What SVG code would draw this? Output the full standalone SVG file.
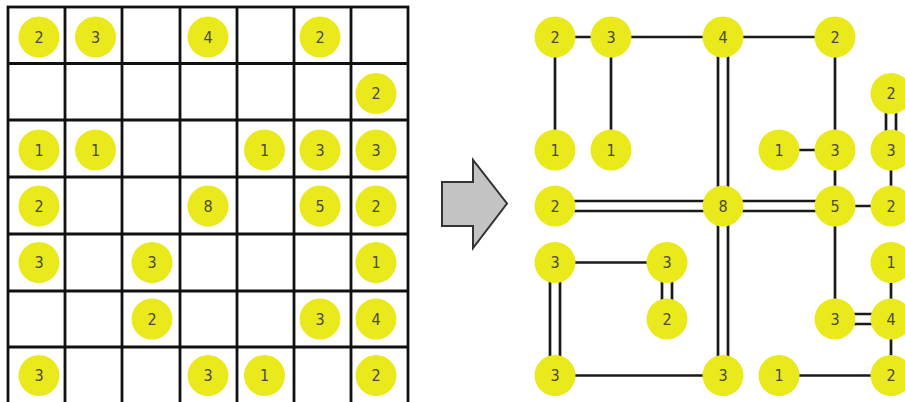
<svg xmlns="http://www.w3.org/2000/svg" width="905" height="402" viewBox="0 0 905 402">
  <style>
    .grid { stroke: #111; stroke-width: 2.8; fill: none; }
    .isle use { fill: #e9e91c; }
    .isle text { font-family: "DejaVu Sans Condensed", "Liberation Sans Narrow", "Liberation Sans", Arial, sans-serif; font-size: 16px; fill: #4a4a3a; text-anchor: middle; dominant-baseline: central; }
    .br line { stroke: #1a1a1a; stroke-width: 2.7; }
    .arrow { fill: #c4c4c4; stroke: #333; stroke-width: 2; stroke-linejoin: miter; }
  </style>
  <defs>
    <circle id="dot" r="20.5"/>
  </defs>
  <rect width="905" height="402" fill="#fff"/>

  <!-- puzzle grid -->
  <g id="grid" class="grid">
    <rect x="8" y="7" width="400" height="397"/>
    <line x1="65" y1="7" x2="65" y2="404"/>
    <line x1="122" y1="7" x2="122" y2="404"/>
    <line x1="180" y1="7" x2="180" y2="404"/>
    <line x1="237" y1="7" x2="237" y2="404"/>
    <line x1="294" y1="7" x2="294" y2="404"/>
    <line x1="351" y1="7" x2="351" y2="404"/>
    <line x1="8" y1="63.5" x2="408" y2="63.5"/>
    <line x1="8" y1="120" x2="408" y2="120"/>
    <line x1="8" y1="177" x2="408" y2="177"/>
    <line x1="8" y1="234" x2="408" y2="234"/>
    <line x1="8" y1="291" x2="408" y2="291"/>
    <line x1="8" y1="347" x2="408" y2="347"/>
  </g>

  <!-- puzzle clues -->
  <g id="clues">
    <g id="p-0-0" class="isle"><use href="#dot" x="39" y="37"/><text x="39" y="37">2</text></g>
    <g id="p-0-1" class="isle"><use href="#dot" x="95.5" y="37"/><text x="95.5" y="37">3</text></g>
    <g id="p-0-3" class="isle"><use href="#dot" x="208" y="37"/><text x="208" y="37">4</text></g>
    <g id="p-0-5" class="isle"><use href="#dot" x="320" y="37"/><text x="320" y="37">2</text></g>
    <g id="p-1-6" class="isle"><use href="#dot" x="376" y="93.5"/><text x="376" y="93.5">2</text></g>
    <g id="p-2-0" class="isle"><use href="#dot" x="39" y="150"/><text x="39" y="150">1</text></g>
    <g id="p-2-1" class="isle"><use href="#dot" x="95.5" y="150"/><text x="95.5" y="150">1</text></g>
    <g id="p-2-4" class="isle"><use href="#dot" x="264.5" y="150"/><text x="264.5" y="150">1</text></g>
    <g id="p-2-5" class="isle"><use href="#dot" x="320" y="150"/><text x="320" y="150">3</text></g>
    <g id="p-2-6" class="isle"><use href="#dot" x="376" y="150"/><text x="376" y="150">3</text></g>
    <g id="p-3-0" class="isle"><use href="#dot" x="39" y="206"/><text x="39" y="206">2</text></g>
    <g id="p-3-3" class="isle"><use href="#dot" x="208" y="206"/><text x="208" y="206">8</text></g>
    <g id="p-3-5" class="isle"><use href="#dot" x="320" y="206"/><text x="320" y="206">5</text></g>
    <g id="p-3-6" class="isle"><use href="#dot" x="376" y="206"/><text x="376" y="206">2</text></g>
    <g id="p-4-0" class="isle"><use href="#dot" x="39" y="262.5"/><text x="39" y="262.5">3</text></g>
    <g id="p-4-2" class="isle"><use href="#dot" x="152" y="262.5"/><text x="152" y="262.5">3</text></g>
    <g id="p-4-6" class="isle"><use href="#dot" x="376" y="262.5"/><text x="376" y="262.5">1</text></g>
    <g id="p-5-2" class="isle"><use href="#dot" x="152" y="319"/><text x="152" y="319">2</text></g>
    <g id="p-5-5" class="isle"><use href="#dot" x="320" y="319"/><text x="320" y="319">3</text></g>
    <g id="p-5-6" class="isle"><use href="#dot" x="376" y="319"/><text x="376" y="319">4</text></g>
    <g id="p-6-0" class="isle"><use href="#dot" x="39" y="375.5"/><text x="39" y="375.5">3</text></g>
    <g id="p-6-3" class="isle"><use href="#dot" x="208" y="375.5"/><text x="208" y="375.5">3</text></g>
    <g id="p-6-4" class="isle"><use href="#dot" x="264.5" y="375.5"/><text x="264.5" y="375.5">1</text></g>
    <g id="p-6-6" class="isle"><use href="#dot" x="376" y="375.5"/><text x="376" y="375.5">2</text></g>
  </g>

  <!-- arrow -->
  <polygon id="arrow" class="arrow" points="442,182 473,182 473,160 507,203.5 473,248 473,226 442,226"/>

  <!-- bridges of the solution -->
  <g id="bridges" class="br">
    <!-- row 0 -->
    <line x1="555" y1="37" x2="611" y2="37"/>
    <line x1="611" y1="37" x2="723" y2="37"/>
    <line x1="723" y1="37" x2="835" y2="37"/>
    <!-- verticals from row 0 -->
    <line x1="555" y1="37" x2="555" y2="150"/>
    <line x1="611" y1="37" x2="611" y2="150"/>
    <line x1="718" y1="37" x2="718" y2="206"/>
    <line x1="728" y1="37" x2="728" y2="206"/>
    <line x1="835" y1="37" x2="835" y2="150"/>
    <line x1="886" y1="93.5" x2="886" y2="150"/>
    <line x1="896" y1="93.5" x2="896" y2="150"/>
    <!-- row 2 -->
    <line x1="779" y1="150" x2="835" y2="150"/>
    <line x1="835" y1="150" x2="835" y2="206"/>
    <line x1="891" y1="150" x2="891" y2="206"/>
    <!-- row 3 -->
    <line x1="555" y1="201" x2="723" y2="201"/>
    <line x1="555" y1="211" x2="723" y2="211"/>
    <line x1="723" y1="201" x2="835" y2="201"/>
    <line x1="723" y1="211" x2="835" y2="211"/>
    <line x1="835" y1="206" x2="891" y2="206"/>
    <line x1="718" y1="206" x2="718" y2="375.5"/>
    <line x1="728" y1="206" x2="728" y2="375.5"/>
    <line x1="835" y1="206" x2="835" y2="319"/>
    <!-- row 4 -->
    <line x1="555" y1="262.5" x2="667" y2="262.5"/>
    <line x1="550" y1="262.5" x2="550" y2="375.5"/>
    <line x1="560" y1="262.5" x2="560" y2="375.5"/>
    <line x1="662" y1="262.5" x2="662" y2="319"/>
    <line x1="672" y1="262.5" x2="672" y2="319"/>
    <line x1="891" y1="262.5" x2="891" y2="319"/>
    <!-- row 5 -->
    <line x1="835" y1="314" x2="891" y2="314"/>
    <line x1="835" y1="324" x2="891" y2="324"/>
    <line x1="891" y1="319" x2="891" y2="375.5"/>
    <!-- row 6 -->
    <line x1="555" y1="375.5" x2="723" y2="375.5"/>
    <line x1="779" y1="375.5" x2="891" y2="375.5"/>
  </g>

  <!-- islands of the solution -->
  <g id="islands">
    <g id="s-0-0" class="isle"><use href="#dot" x="555" y="37"/><text x="555" y="37">2</text></g>
    <g id="s-0-1" class="isle"><use href="#dot" x="611" y="37"/><text x="611" y="37">3</text></g>
    <g id="s-0-3" class="isle"><use href="#dot" x="723" y="37"/><text x="723" y="37">4</text></g>
    <g id="s-0-5" class="isle"><use href="#dot" x="835" y="37"/><text x="835" y="37">2</text></g>
    <g id="s-1-6" class="isle"><use href="#dot" x="891" y="93.5"/><text x="891" y="93.5">2</text></g>
    <g id="s-2-0" class="isle"><use href="#dot" x="555" y="150"/><text x="555" y="150">1</text></g>
    <g id="s-2-1" class="isle"><use href="#dot" x="611" y="150"/><text x="611" y="150">1</text></g>
    <g id="s-2-4" class="isle"><use href="#dot" x="779" y="150"/><text x="779" y="150">1</text></g>
    <g id="s-2-5" class="isle"><use href="#dot" x="835" y="150"/><text x="835" y="150">3</text></g>
    <g id="s-2-6" class="isle"><use href="#dot" x="891" y="150"/><text x="891" y="150">3</text></g>
    <g id="s-3-0" class="isle"><use href="#dot" x="555" y="206"/><text x="555" y="206">2</text></g>
    <g id="s-3-3" class="isle"><use href="#dot" x="723" y="206"/><text x="723" y="206">8</text></g>
    <g id="s-3-5" class="isle"><use href="#dot" x="835" y="206"/><text x="835" y="206">5</text></g>
    <g id="s-3-6" class="isle"><use href="#dot" x="891" y="206"/><text x="891" y="206">2</text></g>
    <g id="s-4-0" class="isle"><use href="#dot" x="555" y="262.5"/><text x="555" y="262.5">3</text></g>
    <g id="s-4-2" class="isle"><use href="#dot" x="667" y="262.5"/><text x="667" y="262.5">3</text></g>
    <g id="s-4-6" class="isle"><use href="#dot" x="891" y="262.5"/><text x="891" y="262.5">1</text></g>
    <g id="s-5-2" class="isle"><use href="#dot" x="667" y="319"/><text x="667" y="319">2</text></g>
    <g id="s-5-5" class="isle"><use href="#dot" x="835" y="319"/><text x="835" y="319">3</text></g>
    <g id="s-5-6" class="isle"><use href="#dot" x="891" y="319"/><text x="891" y="319">4</text></g>
    <g id="s-6-0" class="isle"><use href="#dot" x="555" y="375.5"/><text x="555" y="375.5">3</text></g>
    <g id="s-6-3" class="isle"><use href="#dot" x="723" y="375.5"/><text x="723" y="375.5">3</text></g>
    <g id="s-6-4" class="isle"><use href="#dot" x="779" y="375.5"/><text x="779" y="375.5">1</text></g>
    <g id="s-6-6" class="isle"><use href="#dot" x="891" y="375.5"/><text x="891" y="375.5">2</text></g>
  </g>
</svg>
